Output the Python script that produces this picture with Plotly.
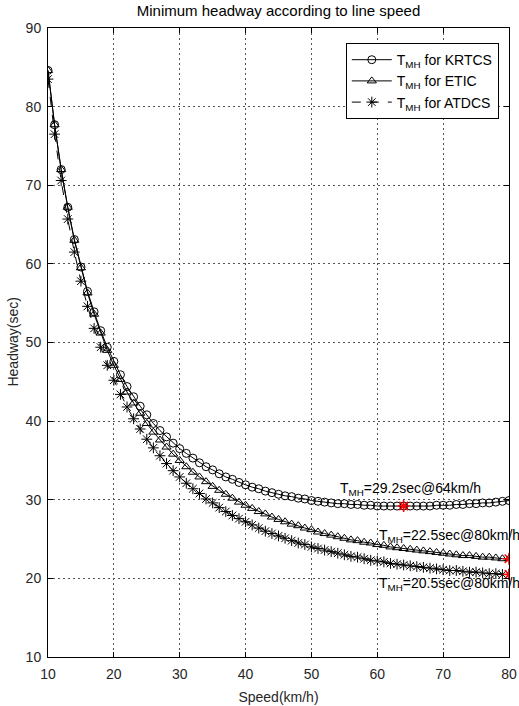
import plotly.graph_objects as go

speed = list(range(10, 81))

krtcs = [84.6, 77.7, 72.0, 67.2, 63.1, 59.6, 56.5, 53.9, 51.5, 49.4,
         47.6, 45.9, 44.4, 43.1, 41.9, 40.8, 39.7, 38.8, 38.0, 37.2,
         36.5, 35.9, 35.3, 34.7, 34.2, 33.8, 33.3, 32.9, 32.6, 32.2,
         31.9, 31.6, 31.4, 31.1, 30.9, 30.7, 30.5, 30.4, 30.2, 30.1,
         29.9, 29.8, 29.7, 29.6, 29.5, 29.5, 29.4, 29.4, 29.3, 29.3,
         29.2, 29.2, 29.2, 29.2, 29.2, 29.2, 29.2, 29.2, 29.2, 29.3,
         29.3, 29.3, 29.4, 29.4, 29.5, 29.5, 29.6, 29.6, 29.7, 29.8,
         29.9]

etic = [84.6, 77.7, 72.0, 67.2, 63.0, 59.5, 56.3, 53.6, 51.2, 49.0,
        47.1, 45.3, 43.7, 42.3, 41.0, 39.7, 38.6, 37.6, 36.7, 35.8,
        35.0, 34.2, 33.5, 32.9, 32.3, 31.7, 31.2, 30.7, 30.2, 29.7,
        29.3, 28.9, 28.5, 28.2, 27.8, 27.5, 27.2, 26.9, 26.7, 26.4,
        26.2, 25.9, 25.7, 25.5, 25.3, 25.1, 24.9, 24.8, 24.6, 24.5,
        24.3, 24.2, 24.0, 23.9, 23.8, 23.7, 23.6, 23.5, 23.4, 23.3,
        23.2, 23.1, 23.0, 22.9, 22.9, 22.8, 22.7, 22.7, 22.6, 22.5,
        22.5]

atdcs = [83.5, 76.5, 70.6, 65.7, 61.5, 57.8, 54.6, 51.8, 49.4, 47.1,
         45.2, 43.4, 41.8, 40.3, 39.0, 37.7, 36.6, 35.6, 34.6, 33.7,
         32.9, 32.1, 31.4, 30.8, 30.1, 29.6, 29.0, 28.5, 28.0, 27.6,
         27.2, 26.8, 26.4, 26.0, 25.7, 25.4, 25.1, 24.8, 24.5, 24.3,
         24.0, 23.8, 23.6, 23.4, 23.2, 23.0, 22.8, 22.7, 22.5, 22.3,
         22.2, 22.1, 21.9, 21.8, 21.7, 21.6, 21.5, 21.4, 21.3, 21.2,
         21.1, 21.0, 21.0, 20.9, 20.8, 20.8, 20.7, 20.6, 20.6, 20.5,
         20.5]

min_speed = [64, 80, 80]
min_headway = [29.2, 22.5, 20.5]
min_labels = ["T<sub>MH</sub>=29.2sec@64km/h",
              "T<sub>MH</sub>=22.5sec@80km/h",
              "T<sub>MH</sub>=20.5sec@80km/h"]
label_x = [54, 60, 60]
label_y = [31.4, 25.4, 19.3]

FONT = "Liberation Sans, Arial, Helvetica, sans-serif"

fig = go.Figure()
fig.add_trace(go.Scatter(
    x=speed, y=krtcs, mode="lines+markers", name="T<sub>MH</sub> for KRTCS",
    line=dict(color="black", width=1),
    marker=dict(symbol="circle-open", size=8, color="black", line=dict(width=1))))
fig.add_trace(go.Scatter(
    x=speed, y=etic, mode="lines+markers", name="T<sub>MH</sub> for ETIC",
    line=dict(color="black", width=1),
    marker=dict(symbol="triangle-up-open", size=8, color="black", line=dict(width=1))))
fig.add_trace(go.Scatter(
    x=speed, y=atdcs, mode="lines+markers", name="T<sub>MH</sub> for ATDCS",
    line=dict(color="black", width=1, dash="dash"),
    marker=dict(symbol="asterisk-open", size=9, color="black", line=dict(width=1, color="black"))))
fig.add_trace(go.Scatter(
    x=min_speed, y=min_headway, mode="markers", showlegend=False,
    marker=dict(symbol="asterisk-open", size=10, color="red", line=dict(width=1.5, color="red"))))

for tx, ty, t in zip(label_x, label_y, min_labels):
    fig.add_annotation(x=tx, y=ty, text=t, showarrow=False, xanchor="left",
                       yanchor="middle", font=dict(family=FONT, size=14, color="black"))

# y-axis title placed as rotated text in the left margin
fig.add_annotation(x=-0.078, y=0.5, xref="paper", yref="paper", text="Headway(sec)",
                   textangle=-90, showarrow=False, xanchor="center", yanchor="middle",
                   font=dict(family=FONT, size=14, color="#262626"))

axis_common = dict(
    showline=True, linecolor="black", linewidth=1, mirror="allticks",
    ticks="inside", ticklen=5, tickcolor="black", automargin=False,
    showgrid=True, gridcolor="#555555", griddash="2px,3px", gridwidth=1,
    zeroline=False, tickfont=dict(family=FONT, size=14, color="#262626"),
)

fig.update_xaxes(range=[10, 80], tickvals=[10, 20, 30, 40, 50, 60, 70, 80],
                 ticklabelstandoff=4,
                 title=dict(text="Speed(km/h)", font=dict(family=FONT, size=14, color="#262626"), standoff=11),
                 **axis_common)
fig.update_yaxes(range=[10, 90], tickvals=[10, 20, 30, 40, 50, 60, 70, 80, 90],
                 ticklabelstandoff=3,
                 **axis_common)

fig.update_layout(
    width=519, height=706,
    margin=dict(l=48, r=10, t=28, b=49),
    paper_bgcolor="white", plot_bgcolor="white",
    title=dict(text="Minimum headway according to line speed", x=0.5, xanchor="center",
               xref="paper", y=0.985, yanchor="middle",
               font=dict(family=FONT, size=15, color="black")),
    legend=dict(x=0.646, y=0.976, xanchor="left", yanchor="top",
                bgcolor="white", bordercolor="black", borderwidth=1,
                font=dict(family=FONT, size=14, color="black"),
                tracegroupgap=0, itemwidth=40),
    showlegend=True,
)

fig.write_html("out.html", config={"displayModeBar": False},
               post_script="document.body.style.margin='0';document.body.style.overflow='hidden';")
